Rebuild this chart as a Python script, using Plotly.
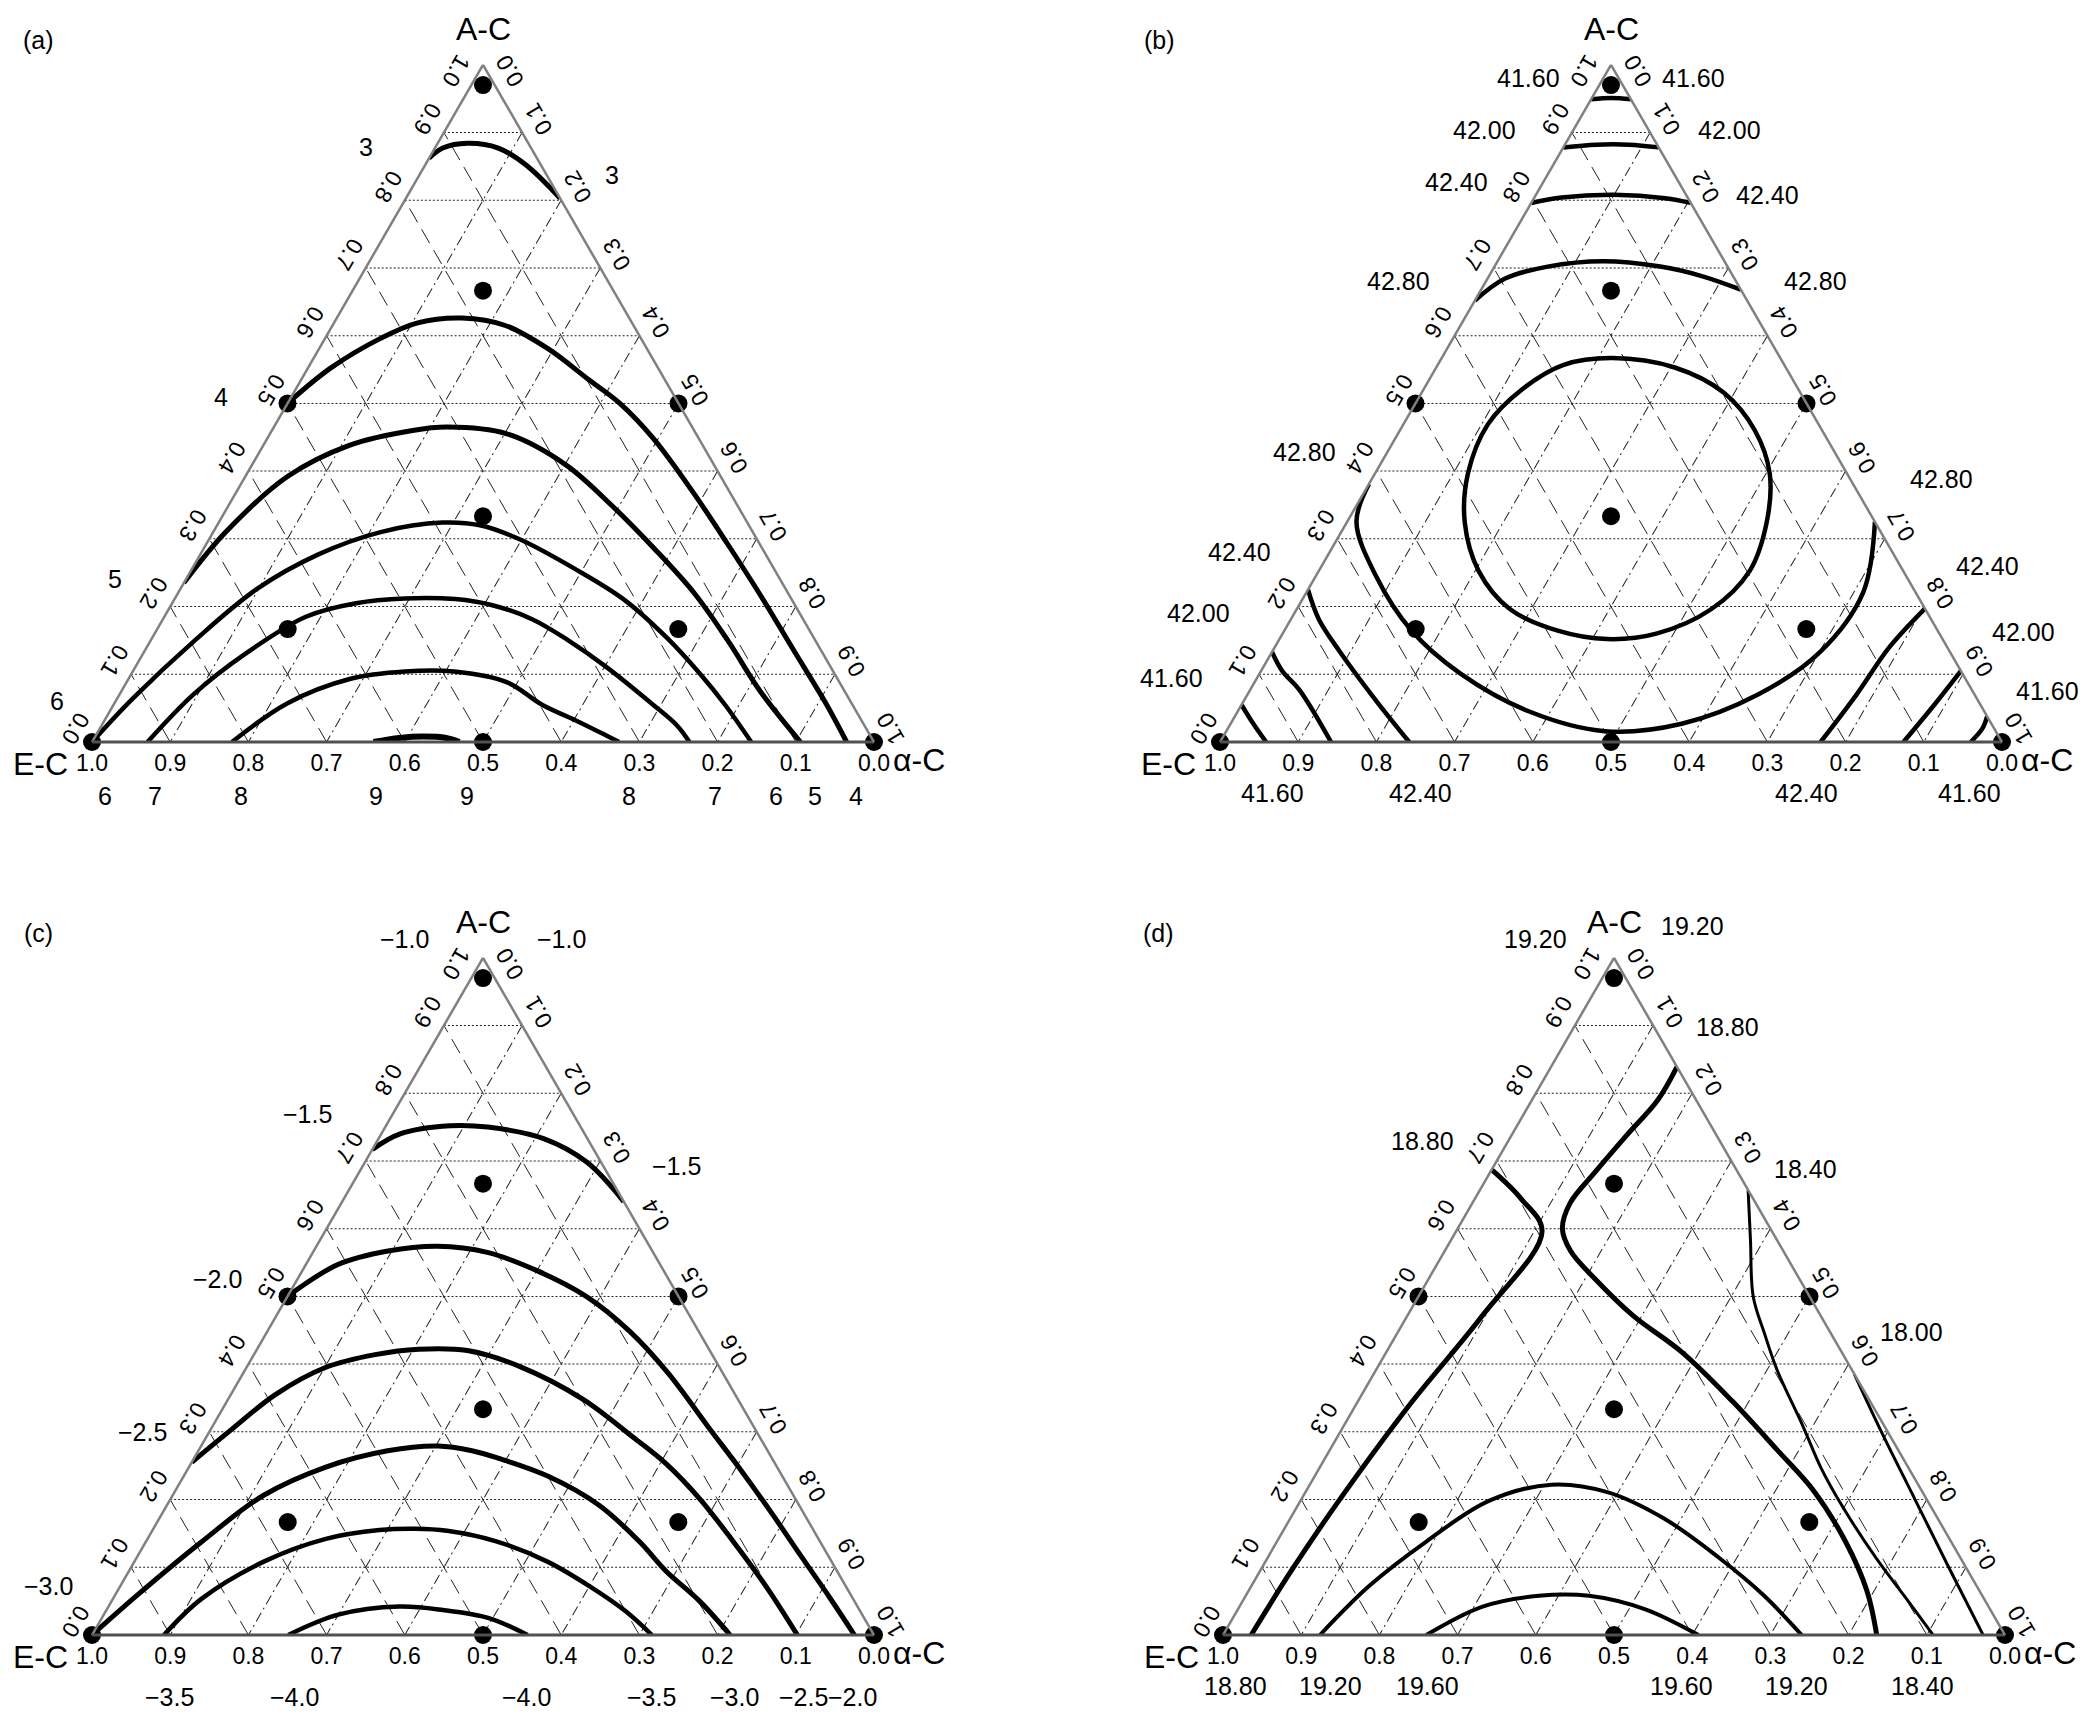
import plotly.graph_objects as go

# design points of the mixture (A-C, E-C, alpha-C fractions); the top dot sits just under the apex
design_a = [0.97, 0, 0, 0.5, 0.5, 0, 0.667, 0.167, 0.167, 0.333]
design_b = [0.015, 1, 0, 0.5, 0, 0.5, 0.167, 0.667, 0.167, 0.333]
design_c = [0.015, 0, 1, 0, 0.5, 0.5, 0.167, 0.167, 0.667, 0.333]

# tick values along the edges (the apex values are written separately, as in the original)
a_ticks = [0.0, 0.1, 0.2, 0.3, 0.4, 0.5, 0.6, 0.7, 0.8, 0.9]
b_ticks = [0.0, 0.1, 0.2, 0.3, 0.4, 0.5, 0.6, 0.7, 0.8, 0.9, 1.0]
c_ticks = [0.1, 0.2, 0.3, 0.4, 0.5, 0.6, 0.7, 0.8, 0.9, 1.0]

# ---- panel (a) contour lines (A-C, alpha-C)
pa_3_a = [0.862, 0.877, 0.884, 0.877, 0.852, 0.803]
pa_3_c = [0, 0.01, 0.038, 0.081, 0.129, 0.197]
pa_4_a = [0.5, 0.552, 0.596, 0.619, 0.626, 0.615, 0.58, 0.536, 0.5, 0.448, 0.369, 0.292, 0.22, 0.135, 0.055, 0]
pa_4_c = [0, 0.029, 0.071, 0.107, 0.16, 0.221, 0.294, 0.366, 0.425, 0.494, 0.584, 0.667, 0.743, 0.83, 0.912, 0.965]
pa_5_a = [0.235, 0.31, 0.392, 0.438, 0.46, 0.465, 0.455, 0.41, 0.35, 0.285, 0.22, 0.15, 0.075, 0]
pa_5_c = [0, 0.016, 0.054, 0.11, 0.18, 0.222, 0.303, 0.4, 0.489, 0.577, 0.66, 0.738, 0.817, 0.906]
pa_6_a = [0, 0.064, 0.149, 0.226, 0.277, 0.31, 0.324, 0.32, 0.299, 0.256, 0.211, 0.154, 0.1, 0.055, 0]
pa_6_c = [0, 0.02, 0.056, 0.098, 0.151, 0.214, 0.286, 0.336, 0.398, 0.489, 0.574, 0.658, 0.728, 0.782, 0.843]
pa_7_a = [0, 0.071, 0.129, 0.185, 0.205, 0.212, 0.211, 0.202, 0.181, 0.149, 0.111, 0.055, 0.025, 0]
pa_7_c = [0.071, 0.095, 0.13, 0.181, 0.235, 0.294, 0.359, 0.411, 0.473, 0.536, 0.602, 0.69, 0.735, 0.764]
pa_8_a = [0, 0.057, 0.093, 0.104, 0.104, 0.088, 0.055, 0.03, 0.01, 0]
pa_8_c = [0.179, 0.221, 0.283, 0.348, 0.411, 0.487, 0.548, 0.607, 0.652, 0.674]
pa_9_a = [0, 0.006, 0.008, 0.006, 0]
pa_9_c = [0.36, 0.39, 0.42, 0.45, 0.47]

# ---- panel (b)
pb_4160t_a = [0.949, 0.951, 0.949]
pb_4160t_c = [0, 0.025, 0.051]
pb_4200t_a = [0.878, 0.882, 0.882, 0.878]
pb_4200t_c = [0, 0.04, 0.082, 0.122]
pb_4240t_a = [0.796, 0.804, 0.808, 0.803, 0.796]
pb_4240t_c = [0, 0.035, 0.1, 0.168, 0.204]
pb_4280t_a = [0.652, 0.684, 0.702, 0.71, 0.702, 0.688, 0.668]
pb_4280t_c = [0, 0.022, 0.068, 0.135, 0.212, 0.272, 0.332]
pb_4280b_a = [0.381, 0.325, 0.245, 0.165, 0.101, 0.045, 0.016, 0.027, 0.07, 0.133, 0.221, 0.325]
pb_4280b_c = [0, 0.012, 0.077, 0.162, 0.257, 0.373, 0.484, 0.577, 0.653, 0.701, 0.712, 0.675]
pb_ring_a = [0.567, 0.553, 0.516, 0.46, 0.396, 0.324, 0.252, 0.196, 0.16, 0.152, 0.164, 0.196,
             0.252, 0.324, 0.396, 0.469, 0.521, 0.557, 0.567]
pb_ring_c = [0.218, 0.305, 0.386, 0.454, 0.505, 0.537, 0.551, 0.53, 0.478, 0.419, 0.351, 0.273,
             0.205, 0.151, 0.119, 0.108, 0.126, 0.161, 0.218]
pb_4240l_a = [0.225, 0.181, 0.133, 0.062, 0]
pb_4240l_c = [0, 0.036, 0.087, 0.168, 0.242]
pb_4200l_a = [0.133, 0.105, 0.077, 0]
pb_4200l_c = [0, 0.027, 0.063, 0.142]
pb_4160l_a = [0.055, 0.028, 0]
pb_4160l_c = [0, 0.028, 0.059]
pb_4240r_a = [0, 0.07, 0.14, 0.197]
pb_4240r_c = [0.768, 0.779, 0.786, 0.803]
pb_4200r_a = [0, 0.055, 0.105]
pb_4200r_c = [0.874, 0.886, 0.895]
pb_4160r_a = [0, 0.02, 0.038]
pb_4160r_c = [0.96, 0.965, 0.962]

# ---- panel (c)
pc_15_a = [0.717, 0.74, 0.752, 0.75, 0.733, 0.698, 0.64]
pc_15_c = [0, 0.024, 0.082, 0.131, 0.211, 0.284, 0.36]
pc_20_a = [0.5, 0.547, 0.567, 0.574, 0.565, 0.538, 0.5, 0.448, 0.387, 0.305, 0.247, 0.181, 0.116, 0.055, 0]
pc_20_c = [0, 0.041, 0.095, 0.155, 0.223, 0.3, 0.382, 0.464, 0.543, 0.637, 0.704, 0.778, 0.849, 0.916, 0.975]
pc_25_a = [0.255, 0.304, 0.355, 0.395, 0.414, 0.422, 0.42, 0.396, 0.348, 0.292, 0.252, 0.2, 0.138, 0.07, 0]
pc_25_c = [0, 0.027, 0.057, 0.101, 0.155, 0.207, 0.27, 0.35, 0.454, 0.546, 0.609, 0.678, 0.751, 0.828, 0.902]
pc_30_a = [0, 0.06, 0.137, 0.206, 0.248, 0.272, 0.279, 0.272, 0.261, 0.234, 0.192, 0.138, 0.095, 0.05, 0]
pc_30_c = [0, 0.029, 0.071, 0.116, 0.175, 0.242, 0.303, 0.35, 0.389, 0.467, 0.552, 0.631, 0.686, 0.752, 0.816]
pc_35_a = [0, 0.053, 0.108, 0.142, 0.155, 0.157, 0.154, 0.138, 0.108, 0.07, 0.035, 0]
pc_35_c = [0.092, 0.113, 0.165, 0.228, 0.29, 0.335, 0.377, 0.449, 0.529, 0.604, 0.665, 0.716]
pc_40_a = [0, 0.03, 0.042, 0.037, 0.025, 0]
pc_40_c = [0.251, 0.3, 0.372, 0.43, 0.495, 0.557]

# ---- panel (d)
pd_1880l_a = [0.687, 0.645, 0.596, 0.472, 0.336, 0.198, 0.096, 0]
pd_1880l_c = [0, 0.058, 0.11, 0.096, 0.068, 0.049, 0.04, 0.036]
pd_1880r_a = [0.839, 0.79, 0.737, 0.683, 0.638, 0.6, 0.567, 0.525, 0.472, 0.417, 0.345, 0.274, 0.212, 0.138, 0.065, 0]
pd_1880r_c = [0.161, 0.161, 0.147, 0.134, 0.125, 0.134, 0.161, 0.214, 0.288, 0.379, 0.479, 0.571, 0.65, 0.727, 0.791, 0.836]
pd_1840_a = [0.657, 0.583, 0.5, 0.445, 0.39, 0.31, 0.246, 0.19, 0.113, 0.058, 0]
pd_1840_c = [0.343, 0.383, 0.428, 0.47, 0.514, 0.586, 0.642, 0.697, 0.779, 0.842, 0.908]
pd_1800_a = [0.385, 0.3, 0.2, 0.1, 0]
pd_1800_c = [0.615, 0.692, 0.785, 0.878, 0.972]
pd_1920_a = [0, 0.073, 0.138, 0.198, 0.222, 0.211, 0.172, 0.113, 0.058, 0]
pd_1920_c = [0.124, 0.151, 0.191, 0.241, 0.309, 0.386, 0.478, 0.579, 0.663, 0.74]
pd_1960_a = [0, 0.042, 0.058, 0.058, 0.038, 0]
pd_1960_c = [0.26, 0.311, 0.375, 0.439, 0.521, 0.608]

# contour value labels: (text, u, v) relative to each triangle (u across the base, v up to the apex)
labels_a = [("3", 0.35, 0.878), ("3", 0.665, 0.837), ("4", 0.165, 0.51), ("5", 0.03, 0.24),
            ("6", -0.045, 0.06), ("6", 0.016, -0.08), ("7", 0.081, -0.08), ("8", 0.191, -0.08),
            ("9", 0.363, -0.08), ("9", 0.479, -0.08), ("8", 0.687, -0.08), ("7", 0.797, -0.08),
            ("6", 0.875, -0.08), ("5", 0.925, -0.08), ("4", 0.977, -0.08)]
labels_b = [("41.60", 0.394, 0.981), ("41.60", 0.606, 0.981), ("42.00", 0.338, 0.904), ("42.00", 0.652, 0.904),
            ("42.40", 0.303, 0.827), ("42.40", 0.7, 0.807), ("42.80", 0.228, 0.68), ("42.80", 0.762, 0.68),
            ("42.80", 0.108, 0.428), ("42.80", 0.922, 0.388), ("42.40", 0.025, 0.28), ("42.40", 0.982, 0.26),
            ("42.00", -0.027, 0.19), ("42.00", 1.028, 0.163), ("41.60", -0.062, 0.095), ("41.60", 1.058, 0.075),
            ("41.60", 0.067, -0.075), ("42.40", 0.257, -0.075), ("42.40", 0.75, -0.075), ("41.60", 0.958, -0.075)]
labels_c = [("−1.0", 0.4, 1.027), ("−1.0", 0.6, 1.027), ("−1.5", 0.275, 0.77), ("−1.5", 0.748, 0.692),
            ("−2.0", 0.16, 0.525), ("−2.5", 0.065, 0.3), ("−3.0", -0.055, 0.072),
            ("−3.5", 0.099, -0.092), ("−4.0", 0.259, -0.092), ("−4.0", 0.555, -0.092), ("−3.5", 0.715, -0.092),
            ("−3.0", 0.821, -0.092), ("−2.5", 0.91, -0.092), ("−2.0", 0.973, -0.092)]
labels_d = [("19.20", 0.4, 1.027), ("19.20", 0.6, 1.047), ("18.80", 0.645, 0.898), ("18.80", 0.255, 0.73),
            ("18.40", 0.745, 0.688), ("18.00", 0.88, 0.447),
            ("18.80", 0.016, -0.076), ("19.20", 0.137, -0.076), ("19.60", 0.262, -0.076),
            ("19.60", 0.586, -0.076), ("19.20", 0.734, -0.076), ("18.40", 0.895, -0.076)]
# corner names, apex tick values and panel tags: (text, u, v, angle)
names = [("A-C", 0.5, 1.053), ("E-C", -0.066, -0.032), ("α-C", 1.058, -0.026)]
apex_ticks = [("1.0", 0.466, 0.99, 120), ("0.0", 0.534, 0.99, -120)]
tag_u = [-0.069, -0.077, -0.069, -0.082]
tags = ["(a)", "(b)", "(c)", "(d)"]

FONT = "Liberation Sans, Arial, Helvetica, sans-serif"
W, H = 2089, 1715
TRI = 782
DW = TRI / W
DH = TRI * 0.8660254 / H
origins = [(84 / W, 1 - 734 / H), (1212 / W, 1 - 734 / H), (84 / W, 1 - 1627 / H), (1215 / W, 1 - 1627 / H)]
tids = ["ternary", "ternary2", "ternary3", "ternary4"]

fig = go.Figure()


def add_lines(tid, lines, widths):
    for (a, c), w in zip(lines, widths):
        fig.add_trace(go.Scatterternary(a=a, c=c, mode="lines", subplot=tid, cliponaxis=False,
                                        line=dict(color="black", width=w, shape="spline", smoothing=1.0),
                                        hoverinfo="skip", showlegend=False))
    fig.add_trace(go.Scatterternary(a=design_a, b=design_b, c=design_c, mode="markers", subplot=tid,
                                    cliponaxis=False, marker=dict(size=18, color="black"), showlegend=False))


add_lines("ternary", [(pa_3_a, pa_3_c), (pa_4_a, pa_4_c), (pa_5_a, pa_5_c), (pa_6_a, pa_6_c),
                      (pa_7_a, pa_7_c), (pa_8_a, pa_8_c), (pa_9_a, pa_9_c)], [5, 5, 5, 4.5, 4.5, 4.5, 6])
add_lines("ternary2", [(pb_4160t_a, pb_4160t_c), (pb_4200t_a, pb_4200t_c), (pb_4240t_a, pb_4240t_c),
                       (pb_4280t_a, pb_4280t_c), (pb_4280b_a, pb_4280b_c), (pb_ring_a, pb_ring_c),
                       (pb_4240l_a, pb_4240l_c), (pb_4200l_a, pb_4200l_c), (pb_4160l_a, pb_4160l_c),
                       (pb_4240r_a, pb_4240r_c), (pb_4200r_a, pb_4200r_c), (pb_4160r_a, pb_4160r_c)],
          [4.5] * 12)
add_lines("ternary3", [(pc_15_a, pc_15_c), (pc_20_a, pc_20_c), (pc_25_a, pc_25_c), (pc_30_a, pc_30_c),
                       (pc_35_a, pc_35_c), (pc_40_a, pc_40_c)], [5, 5, 5, 5, 4.5, 4.5])
add_lines("ternary4", [(pd_1880l_a, pd_1880l_c), (pd_1880r_a, pd_1880r_c), (pd_1840_a, pd_1840_c),
                       (pd_1800_a, pd_1800_c), (pd_1920_a, pd_1920_c), (pd_1960_a, pd_1960_c)],
          [5, 5, 3, 3, 4, 4])

axis_common = dict(min=0, tickmode="array", tickformat=".1f", ticks="",
                   tickfont=dict(family=FONT, size=23, color="black"), showgrid=True,
                   gridcolor="#222222", gridwidth=1.3, linecolor="#808080", linewidth=2.5,
                   title=dict(text=""))

layout = {}
for tid, (x0, y0) in zip(tids, origins):
    layout[tid] = dict(
        sum=1, bgcolor="white",
        domain=dict(x=[x0, x0 + DW], y=[y0, y0 + DH]),
        aaxis=dict(axis_common, tickvals=a_ticks, tickangle=120, griddash="2px,2px"),
        baxis=dict(axis_common, tickvals=b_ticks, tickangle=0, griddash="16px,8px",
                   linecolor="#505050", linewidth=3),
        caxis=dict(axis_common, tickvals=c_ticks, tickangle=-120, griddash="10px,4px,2px,4px"),
    )
fig.update_layout(width=W, height=H, margin=dict(l=0, r=0, t=0, b=0), paper_bgcolor="white",
                  showlegend=False, **layout)


def note(x0, y0, u, v, text, size, angle=0):
    fig.add_annotation(x=x0 + u * DW, y=y0 + v * DH, xref="paper", yref="paper", text=text,
                       xanchor="center", yanchor="middle", showarrow=False, textangle=angle,
                       font=dict(family=FONT, size=size, color="black"))


for (x0, y0), tag, tu, labs in zip(origins, tags, tag_u, [labels_a, labels_b, labels_c, labels_d]):
    note(x0, y0, tu, 1.037, tag, 25)
    for text, u, v in names:
        note(x0, y0, u, v, text, 32)
    for text, u, v, ang in apex_ticks:
        note(x0, y0, u, v, text, 23, ang)
    for text, u, v in labs:
        note(x0, y0, u, v, text, 25)

fig.write_html("out.html")
